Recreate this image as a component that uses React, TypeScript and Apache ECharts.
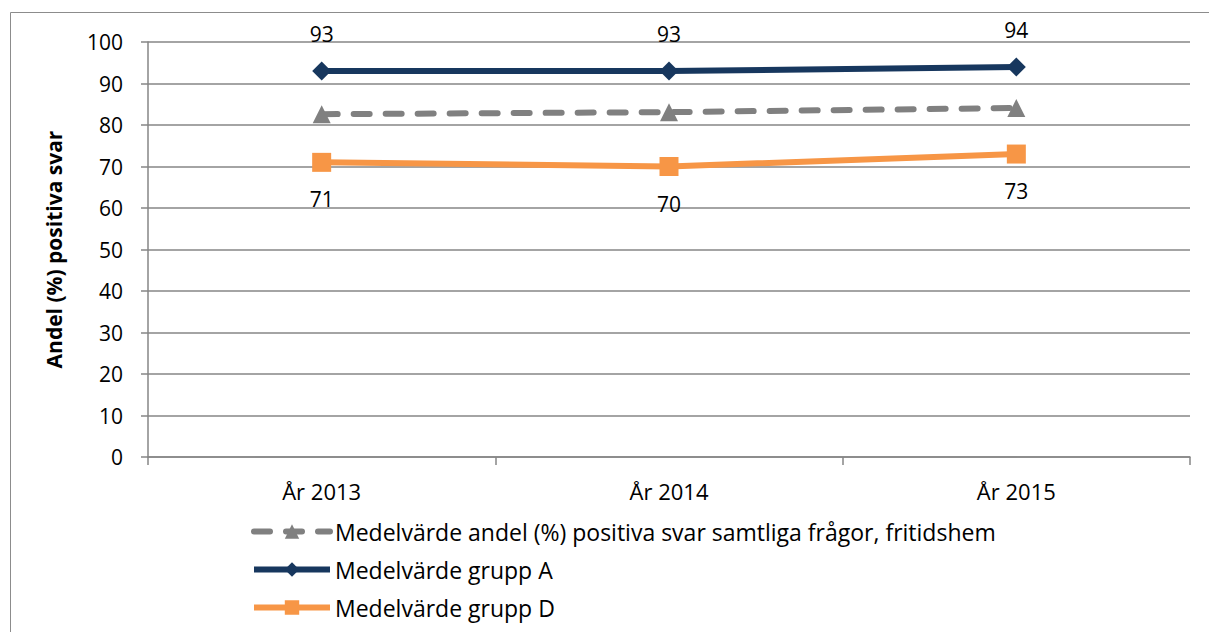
import React, { useEffect, useRef } from "react";
import * as echarts from "echarts";

const categories = ["År 2013", "År 2014", "År 2015"];
const overallAvg = [82.6, 83.1, 84.1];
const groupA = [93, 93, 94];
const groupD = [71, 70, 73];
const yTicks = { min: 0, max: 100, interval: 10 };

const seriesNames = [
  "Medelvärde andel (%) positiva svar samtliga frågor, fritidshem",
  "Medelvärde grupp A",
  "Medelvärde grupp D",
];

const FONT = "'Open Sans', 'DejaVu Sans', sans-serif";

export default function App() {
  const ref = useRef<HTMLDivElement>(null);
  useEffect(() => {
    if (!ref.current) return;
    const chart = echarts.init(ref.current, null, { renderer: "svg" });
    chart.setOption({
      animation: false,
      backgroundColor: "#ffffff",
      textStyle: { fontFamily: FONT },
      graphic: [
        {
          type: "rect",
          shape: { x: 10.5, y: 12.5, width: 1300, height: 700 },
          style: { fill: "none", stroke: "#8c8c8c", lineWidth: 1 },
          silent: true,
          z: -1,
        },
      ],
      grid: { left: 148, right: 19, top: 42, bottom: 175, containLabel: false },
      legend: {
        orient: "vertical",
        left: 246,
        top: 515,
        itemWidth: 76,
        itemHeight: 18,
        itemGap: 15,
        lineStyle: { width: 6 },
        textStyle: { fontSize: 23, color: "#000", fontFamily: FONT, lineHeight: 23 },
        data: seriesNames,
      },
      xAxis: {
        type: "category",
        data: categories,
        boundaryGap: true,
        axisLine: { lineStyle: { color: "#868686", width: 1.5 } },
        axisTick: { show: true, length: 8, lineStyle: { color: "#868686", width: 1.5 } },
        axisLabel: { fontSize: 22, color: "#000", margin: 23, fontFamily: FONT },
      },
      yAxis: {
        type: "value",
        min: yTicks.min,
        max: yTicks.max,
        interval: yTicks.interval,
        name: "Andel (%) positiva svar",
        nameLocation: "middle",
        nameGap: 84,
        nameRotate: 90,
        nameTextStyle: { fontSize: 21, fontWeight: "bold", color: "#000", fontFamily: FONT },
        axisLine: { show: true, lineStyle: { color: "#868686", width: 1.5 } },
        axisTick: { show: true, length: 7, lineStyle: { color: "#868686", width: 1.5 } },
        axisLabel: { fontSize: 21, color: "#000", margin: 25, fontFamily: FONT },
        splitLine: { show: true, lineStyle: { color: "#868686", width: 1.5 } },
      },
      series: [
        {
          name: seriesNames[0],
          type: "line",
          data: overallAvg,
          symbol: "triangle",
          symbolSize: 18,
          itemStyle: { color: "#808080" },
          lineStyle: { color: "#808080", width: 6, type: [16, 16], cap: "round" },
          label: { show: false },
          z: 2,
        },
        {
          name: seriesNames[1],
          type: "line",
          data: groupA,
          symbol: "diamond",
          symbolSize: 19,
          itemStyle: { color: "#17375E" },
          lineStyle: { color: "#17375E", width: 6 },
          label: {
            show: true,
            position: "top",
            distance: 17,
            fontSize: 21,
            color: "#000",
            fontFamily: FONT,
          },
          z: 3,
        },
        {
          name: seriesNames[2],
          type: "line",
          data: groupD,
          symbol: "rect",
          symbolSize: 19,
          itemStyle: { color: "#F79646" },
          lineStyle: { color: "#F79646", width: 6 },
          label: {
            show: true,
            position: "bottom",
            distance: 17,
            fontSize: 21,
            color: "#000",
            fontFamily: FONT,
          },
          z: 3,
        },
      ],
    });
    return () => chart.dispose();
  }, []);
  return (
    <div
      ref={ref}
      style={{ position: "absolute", left: 0, top: 0, width: 1209, height: 632 }}
    />
  );
}
